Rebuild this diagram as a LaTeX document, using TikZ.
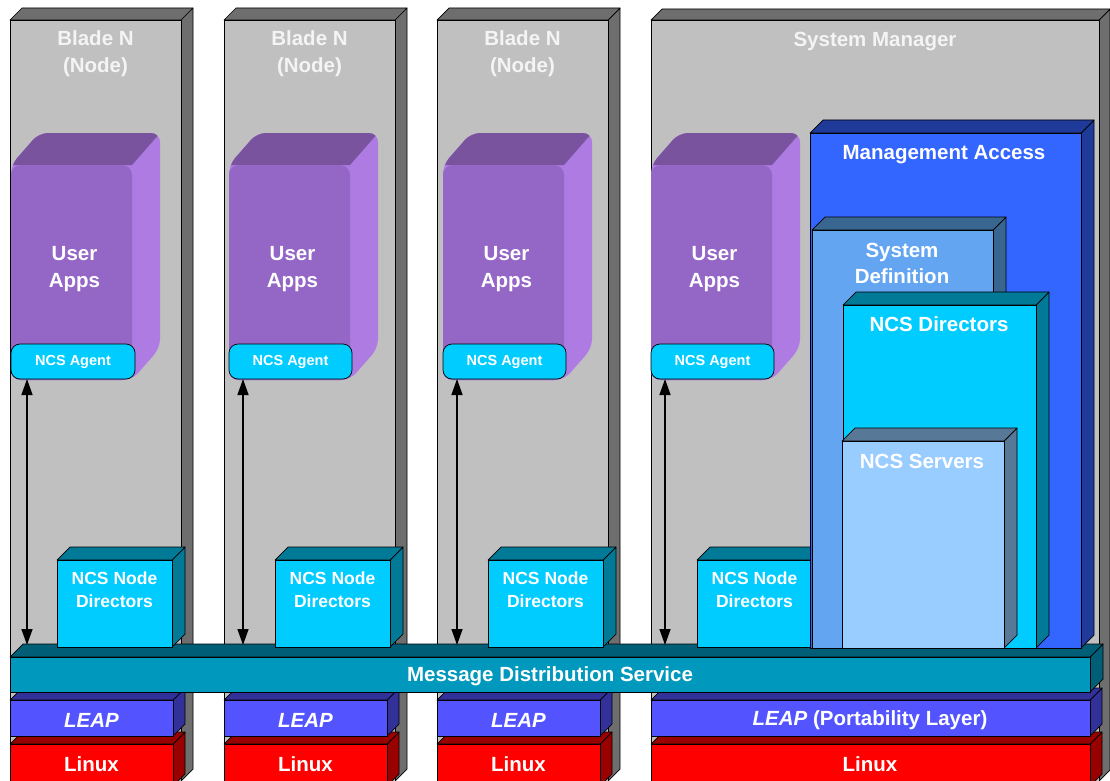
\documentclass[tikz,border=0pt]{standalone}
\usepackage{fontspec}
\setmainfont{Liberation Sans}
\usetikzlibrary{arrows.meta}

\definecolor{grayFront}{HTML}{C0C0C0}
\definecolor{grayShade}{HTML}{6E6E6E}
\definecolor{appFront}{HTML}{9467C6}
\definecolor{appTop}{HTML}{7A539E}
\definecolor{appSide}{HTML}{AD7BE2}
\definecolor{cyanFront}{HTML}{00CCFF}
\definecolor{cyanShade}{HTML}{007A96}
\definecolor{mdsFront}{HTML}{0098BC}
\definecolor{mdsShade}{HTML}{005F77}
\definecolor{leapFront}{HTML}{5353FF}
\definecolor{leapShade}{HTML}{313199}
\definecolor{linuxFront}{HTML}{FF0000}
\definecolor{linuxShade}{HTML}{990000}
\definecolor{maFront}{HTML}{3366FF}
\definecolor{maShade}{HTML}{1F3A99}
\definecolor{sdFront}{HTML}{64A5F2}
\definecolor{sdShade}{HTML}{386690}
\definecolor{nsFront}{HTML}{99CCFF}
\definecolor{nsShade}{HTML}{577896}
\definecolor{titleText}{HTML}{F4F4F4}

\tikzset{
  outline/.style={draw=black, line width=0.7pt, line join=round},
  frontface/.style={outline, rectangle, inner sep=0pt, outer sep=0pt},
  appface/.style={rectangle, fill=appFront, rounded corners=10pt, inner sep=0pt, outer sep=0pt},
  big/.style={text=white, font=\fontsize{20.5}{26.5}\selectfont\bfseries, align=center,
    inner sep=0pt, yshift=-2.5pt},
  title/.style={big, text=titleText},
  mid/.style={text=white, font=\fontsize{17.5}{22.5}\selectfont\bfseries, align=center,
    inner sep=0pt, yshift=-1.5pt},
  agent/.style={outline, fill=cyanFront, rounded corners=9pt, inner sep=0pt, outer sep=0pt,
    minimum height=35pt, text=white, font=\fontsize{14.5}{17}\selectfont\bfseries},
  tip/.tip={Triangle[length=16pt,width=11pt]},
  link/.style={tip-tip, line width=1.4pt, black},
}

% Extruded block: name, x1, y1, x2, y2, depth, front colour, shade colour
\newcommand\blockbox[8]{%
  \filldraw[outline, fill=#8] (#4,#3) -- ++(#6,-#6) -- ({#4+#6},{#5-#6}) -- (#4,#5) -- cycle;
  \filldraw[outline, fill=#8] (#2,#3) -- ++(#6,-#6) -- ({#4+#6},{#3-#6}) -- (#4,#3) -- cycle;
  \node[frontface, fill=#7, minimum width={(#4-#2)*1pt}, minimum height={(#5-#3)*1pt}]
    (#1) at ({(#2+#4)/2},{(#3+#5)/2}) {};%
}

% Rounded purple application block: name, x1, x2
\newcommand\appblock[3]{%
  \begin{scope}
    \clip[rounded corners=9pt] (#2,380) -- (#2,165) -- ({#2+28},133) -- ({#3+28},133)
      -- ({#3+28},348) -- (#3,380) -- cycle;
    \fill[appSide] (#2,125) rectangle ({#3+30},385);
    \fill[appTop] (#2,165) -- ({#2+28},133) -- ({#3+28},133) -- (#3,165) -- cycle;
  \end{scope}
  \node[appface, minimum width={(#3-#2)*1pt}, minimum height=215pt]
    (#1) at ({(#2+#3)/2},272.5) {};
  \node[big] (#1-text) at ({(#2+#3)/2+3},266.5) {User\\Apps};%
}

\begin{document}
\begin{tikzpicture}[x=1pt, y=-1pt]
  \useasboundingbox (0,0) rectangle (1110,781);
  \clip (0,0) rectangle (1110,781);
  \fill[white] (0,0) rectangle (1110,781);

  % Blade and manager panels
  \blockbox{blade1}{10}{20}{181}{781}{12}{grayFront}{grayShade}
  \blockbox{blade2}{224}{20}{395}{781}{12}{grayFront}{grayShade}
  \blockbox{blade3}{437}{20}{608}{781}{12}{grayFront}{grayShade}
  \blockbox{sysmgr}{651}{20}{1099}{781}{11}{grayFront}{grayShade}

  \node[title] (blade1-text) at (95.5,51) {Blade N\\(Node)};
  \node[title] (blade2-text) at (309.5,51) {Blade N\\(Node)};
  \node[title] (blade3-text) at (522.5,51) {Blade N\\(Node)};
  \node[title] (sysmgr-text) at (875,39) {System Manager};

  % User applications with their agents
  \appblock{apps1}{11}{132}
  \appblock{apps2}{229}{350}
  \appblock{apps3}{443}{564}
  \appblock{apps4}{651}{772}

  \node[agent, minimum width=124pt] (agent1) at (73,361.5) {NCS Agent};
  \node[agent, minimum width=123pt] (agent2) at (290.5,361.5) {NCS Agent};
  \node[agent, minimum width=123pt] (agent3) at (504.5,361.5) {NCS Agent};
  \node[agent, minimum width=123pt] (agent4) at (712.5,361.5) {NCS Agent};

  % Lower layers
  \blockbox{linux1}{10}{744}{173}{786}{12}{linuxFront}{linuxShade}
  \blockbox{linux2}{224}{744}{387}{786}{12}{linuxFront}{linuxShade}
  \blockbox{linux3}{437}{744}{600}{786}{12}{linuxFront}{linuxShade}
  \blockbox{linux4}{651}{744}{1090}{786}{12}{linuxFront}{linuxShade}

  \blockbox{leap1}{10}{700}{173}{736}{12}{leapFront}{leapShade}
  \blockbox{leap2}{224}{700}{387}{736}{12}{leapFront}{leapShade}
  \blockbox{leap3}{437}{700}{600}{736}{12}{leapFront}{leapShade}
  \blockbox{leap4}{651}{700}{1090}{736}{12}{leapFront}{leapShade}

  \blockbox{mds}{10}{657}{1090}{692}{13}{mdsFront}{mdsShade}
  \coordinate (mdsTop) at ([yshift=12pt]mds.north);

  \node[big] (mds-text) at (550,674) {Message Distribution Service};
  \foreach \i/\x in {1/91.5, 2/305.5, 3/518.5} {
    \node[big] (leap\i-text) at (\x,718) {\textit{LEAP}};
    \node[big] (linux\i-text) at (\x,762) {Linux};
  }
  \node[big] (leap4-text) at (870,718) {\textit{LEAP} (Portability Layer)};
  \node[big] (linux4-text) at (870,762) {Linux};

  % Agent to message service links
  \coordinate (t1) at ([xshift=16pt]agent1.south west);
  \coordinate (t2) at ([xshift=14pt]agent2.south west);
  \coordinate (t3) at ([xshift=14pt]agent3.south west);
  \coordinate (t4) at ([xshift=14pt]agent4.south west);
  \foreach \i in {1,...,4} {
    \draw[link] (t\i) -- (t\i |- mdsTop);
  }

  % Node directors
  \blockbox{nnd1}{57}{560}{172}{647}{13}{cyanFront}{cyanShade}
  \blockbox{nnd2}{275}{560}{390}{647}{13}{cyanFront}{cyanShade}
  \blockbox{nnd3}{488}{560}{603}{647}{13}{cyanFront}{cyanShade}
  \blockbox{nnd4}{697}{560}{812}{647}{13}{cyanFront}{cyanShade}
  \foreach \i in {1,...,4} {
    \node[mid] (nnd\i-text) at ([yshift=15.5pt]nnd\i.center) {NCS Node\\Directors};
  }

  % Management stack
  \blockbox{mgmt}{810}{133}{1081}{648}{13}{maFront}{maShade}
  \blockbox{sysdef}{812}{230}{993}{648}{13}{sdFront}{sdShade}
  \blockbox{ncsdir}{843}{305}{1036}{648}{13}{cyanFront}{cyanShade}
  \blockbox{ncssrv}{842}{441}{1004}{648}{13}{nsFront}{nsShade}

  \node[big] (mgmt-text) at (944,152) {Management Access};
  \node[big] (sysdef-text) at (902,261) {System\\Definition};
  \node[big] (ncsdir-text) at (939,322) {NCS Directors};
  \node[big] (ncssrv-text) at (922,459) {NCS Servers};
\end{tikzpicture}
\end{document}
